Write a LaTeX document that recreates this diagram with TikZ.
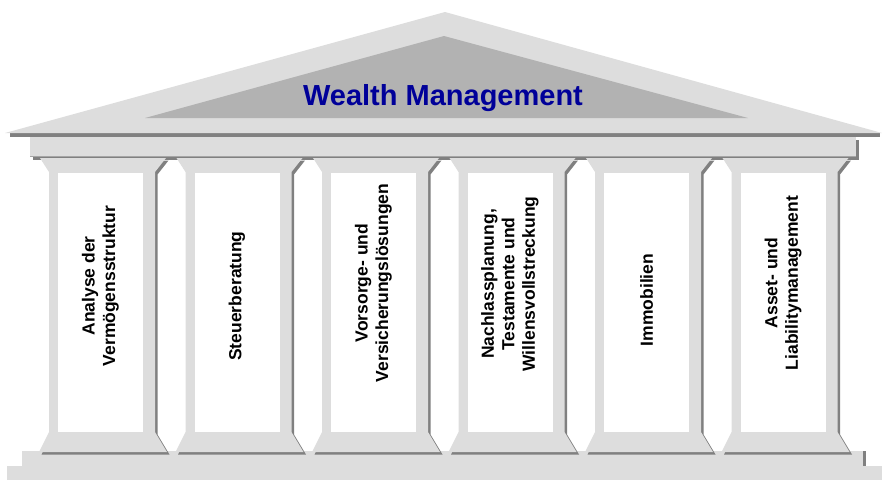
\documentclass[tikz,border=0pt]{standalone}
\usepackage{fontspec}
\setmainfont{Liberation Sans}
\definecolor{stonegray}{RGB}{221,221,221}
\definecolor{gablegray}{RGB}{178,178,178}
\definecolor{shadegray}{RGB}{128,128,128}
\definecolor{seamgray}{RGB}{165,165,165}
\definecolor{titleblue}{RGB}{0,0,153}
\tikzset{
  every picture/.style={x=1pt, y=-1pt},
  casts/.style={preaction={fill=shadegray, transform canvas={shift={(2.5pt,-2.5pt)}}}},
  heading/.style={font=\bfseries\fontsize{29}{34}\selectfont, text=titleblue, inner sep=0pt},
  pillar/.style={font=\bfseries\fontsize{17.5}{20.5}\selectfont, text=black, rotate=90, align=center, inner sep=0pt},
}

\begin{document}
\begin{tikzpicture}
  \useasboundingbox (0,0) rectangle (882,480);
  % steps
  \fill[stonegray] (7,466) rectangle (882,480);
  \fill[shadegray] (863,451) rectangle (866,466);
  \fill[stonegray] (22,451) rectangle (863,466);
  % beam
  \fill[stonegray, casts] (30,137) rectangle (856,157);
  \draw[seamgray, line width=1pt] (30,156.5) -- (856,156.5);
  % columns
  \foreach \i/\txt/\ty in {0/{Analyse der\\Vermögensstruktur}/286, 1/{Steuerberatung}/296,
      2/{Vorsorge- und\\Versicherungslösungen}/283, 3/{Nachlassplanung,\\Testamente und\\Willensvollstreckung}/284,
      4/{Immobilien}/300, 5/{Asset- und\\Liabilitymanagement}/283} {
    \begin{scope}[shift={(136.5*\i,0)}]
      \fill[stonegray, casts] (40,158) -- (166,158) -- (155,172) -- (155,432) -- (167,452)
        -- (39,452) -- (49,432) -- (49,172) -- cycle;
      \fill[white] (58,173) rectangle (143,432);
      \node[pillar] (pillar\i) at (100.5,\ty) {\txt};
    \end{scope}
  }
  % roof
  \fill[shadegray] (10,133) rectangle (880,136.5);
  \fill[stonegray] (5,133) -- (445,12) -- (882,133) -- cycle;
  \fill[gablegray] (145,118) -- (444,36) -- (748,118) -- cycle;
  \node[heading, anchor=base] (title) at (443,105) {Wealth Management};
\end{tikzpicture}
\end{document}
